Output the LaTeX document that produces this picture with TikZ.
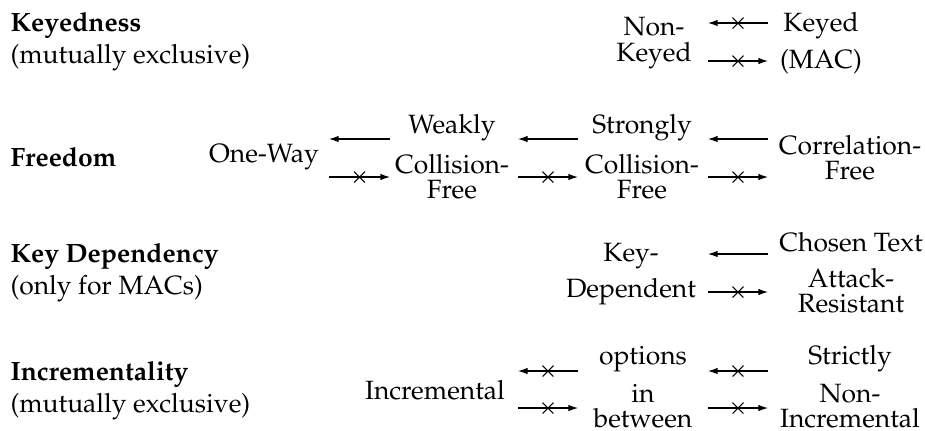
\documentclass[tikz,border=0pt]{standalone}
\usepackage[T1]{fontenc}
\usepackage{mathpazo}
\usetikzlibrary{arrows.meta,shapes.misc}

\begin{document}
\begin{tikzpicture}[x=0.378pt,y=0.378pt,yscale=-1,xscale=1,
  lbl/.style={anchor=west,align=left,inner sep=0pt},
  txt/.style={align=center,inner sep=0pt,font=\fontsize{10}{9.5}\selectfont},
  imp/.style={-{Latex[length=3.6pt,width=2.4pt]}},
  xmark/.style={cross out,draw,inner sep=0pt,minimum size=3.7pt}]
\useasboundingbox (0,0) rectangle (925,430);

% gaps between the columns and heights of the arrows
\coordinate (Al) at (329,0); \coordinate (Ar) at (390,0);
\coordinate (Bl) at (518,0); \coordinate (Br) at (578,0);
\coordinate (Cl) at (708,0); \coordinate (Cr) at (768,0);
\coordinate (r1t) at (0,23);  \coordinate (r1b) at (0,61);
\coordinate (r2t) at (0,139); \coordinate (r2b) at (0,177);
\coordinate (r3t) at (0,254); \coordinate (r3b) at (0,292);
\coordinate (r4t) at (0,371); \coordinate (r4b) at (0,408);

% Keyedness
\node[lbl] (keyedness) at (10,42) {\textbf{Keyedness}\\(mutually exclusive)};
\node[txt] (nonkeyed) at (654,43) {Non-\\Keyed};
\node[txt] (keyed) at (821,43) {Keyed\\[3pt](MAC)};
\draw[imp] (Cr |- r1t) -- node[xmark]{} (Cl |- r1t);
\draw[imp] (Cl |- r1b) -- node[xmark]{} (Cr |- r1b);

% Freedom
\node[lbl] (freedom) at (10,157) {\textbf{Freedom}};
\node[txt] (oneway) at (264,157) {One-Way};
\node[txt] (weakly) at (452,157) {Weakly\\[4pt]Collision-\\Free};
\node[txt] (strongly) at (642,157) {Strongly\\[4pt]Collision-\\Free};
\node[txt] (correlation) at (850,158) {Correlation-\\Free};
\draw[imp] (Ar |- r2t) -- (Al |- r2t);
\draw[imp] (Al |- r2b) -- node[xmark]{} (Ar |- r2b);
\draw[imp] (Br |- r2t) -- (Bl |- r2t);
\draw[imp] (Bl |- r2b) -- node[xmark]{} (Br |- r2b);
\draw[imp] (Cr |- r2t) -- (Cl |- r2t);
\draw[imp] (Cl |- r2b) -- node[xmark]{} (Cr |- r2b);

% Key Dependency
\node[lbl] (keydependency) at (10,273) {\textbf{Key Dependency}\\(only for MACs)};
\node[txt] (keydep) at (631,274) {Key-\\[2.5pt]Dependent};
\node[txt] (chosen) at (851,273) {Chosen Text\\[4pt]Attack-\\Resistant};
\draw[imp] (Cr |- r3t) -- (Cl |- r3t);
\draw[imp] (Cl |- r3b) -- node[xmark]{} (Cr |- r3b);

% Incrementality
\node[lbl] (incrementality) at (10,391) {\textbf{Incrementality}\\(mutually exclusive)};
\node[txt] (incremental) at (435,390) {Incremental};
\node[txt] (options) at (643,387) {options\\[3.5pt]in\\between};
\node[txt] (strictly) at (850,387) {Strictly\\[3.5pt]Non-\\Incremental};
\draw[imp] (Br |- r4t) -- node[xmark]{} (Bl |- r4t);
\draw[imp] (Bl |- r4b) -- node[xmark]{} (Br |- r4b);
\draw[imp] (Cr |- r4t) -- node[xmark]{} (Cl |- r4t);
\draw[imp] (Cl |- r4b) -- node[xmark]{} (Cr |- r4b);
\end{tikzpicture}
\end{document}
